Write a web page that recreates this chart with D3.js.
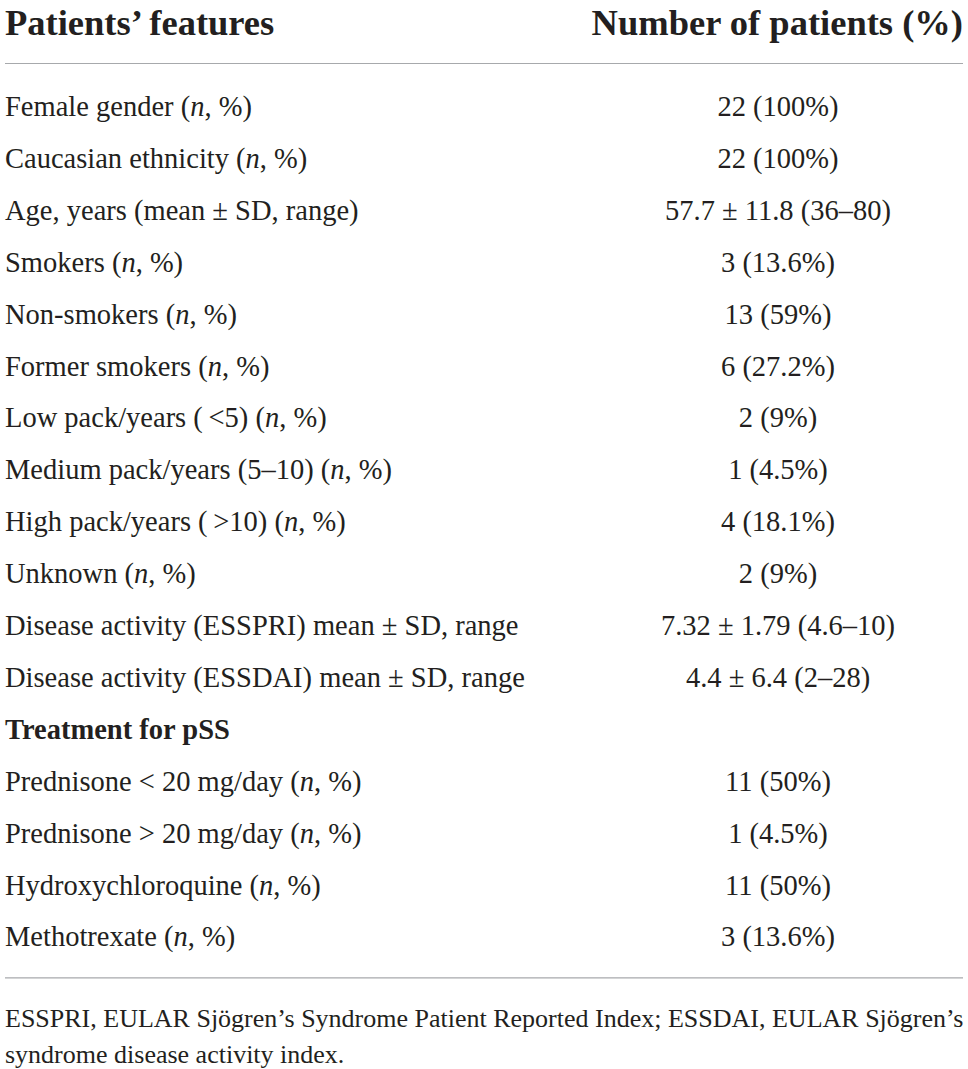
<!DOCTYPE html>
<html>
<head>
<meta charset="utf-8">
<script src="https://cdn.jsdelivr.net/npm/d3@7"></script>
<style>
  body { margin: 0; background: #fff; }
  svg text { font-family: "Liberation Serif", "Times New Roman", serif; fill: #231f20; }
</style>
</head>
<body>
<svg id="tbl" width="968" height="1069"></svg>
<script>
// column headers
var headers = ["Patients\u2019 features", "Number of patients (%)"]

// row labels, italic "n" is written as {n}
var features = [
    "Female gender ({n}, %)",
    "Caucasian ethnicity ({n}, %)",
    "Age, years (mean \u00b1 SD, range)",
    "Smokers ({n}, %)",
    "Non-smokers ({n}, %)",
    "Former smokers ({n}, %)",
    "Low pack/years (\u2009<5) ({n}, %)",
    "Medium pack/years (5\u201310) ({n}, %)",
    "High pack/years (\u2009>10) ({n}, %)",
    "Unknown ({n}, %)",
    "Disease activity (ESSPRI) mean \u00b1 SD, range",
    "Disease activity (ESSDAI) mean \u00b1 SD, range",
    "Treatment for pSS",
    "Prednisone < 20 mg/day ({n}, %)",
    "Prednisone > 20 mg/day ({n}, %)",
    "Hydroxychloroquine ({n}, %)",
    "Methotrexate ({n}, %)"
]

var values = [
    "22 (100%)",
    "22 (100%)",
    "57.7 \u00b1 11.8 (36\u201380)",
    "3 (13.6%)",
    "13 (59%)",
    "6 (27.2%)",
    "2 (9%)",
    "1 (4.5%)",
    "4 (18.1%)",
    "2 (9%)",
    "7.32 \u00b1 1.79 (4.6\u201310)",
    "4.4 \u00b1 6.4 (2\u201328)",
    "",
    "11 (50%)",
    "1 (4.5%)",
    "11 (50%)",
    "3 (13.6%)"
]

// rows drawn bold (section heading)
var sectionRows = ["Treatment for pSS"]

var footnote = [
    "ESSPRI, EULAR Sj\u00f6gren\u2019s Syndrome Patient Reported Index; ESSDAI, EULAR Sj\u00f6gren\u2019s",
    "syndrome disease activity index."
]

var svg = d3.select("#tbl")
var left = 5, right = 963
var valueCenter = 778

// row baselines
var y = d3.scalePoint()
    .domain(d3.range(features.length))
    .range([116, 116 + 51.9 * (features.length - 1)])

// header
svg.append("text")
    .attr("x", left).attr("y", 35)
    .attr("font-size", 36.5).attr("font-weight", "bold")
    .text(headers[0])
svg.append("text")
    .attr("x", right).attr("y", 35)
    .attr("text-anchor", "end")
    .attr("font-size", 36.5).attr("font-weight", "bold")
    .text(headers[1])

svg.append("line")
    .attr("x1", left).attr("x2", right)
    .attr("y1", 63.5).attr("y2", 63.5)
    .attr("stroke", "#a7a9ac").attr("stroke-width", 1.2)

var rows = svg.selectAll("g.row")
    .data(features)
    .enter().append("g")
    .attr("class", "row")
    .attr("transform", function(d, i) { return "translate(0," + y(i) + ")" })

rows.append("text")
    .attr("x", left)
    .attr("font-size", 28.5)
    .attr("font-weight", function(d) { return sectionRows.indexOf(d) >= 0 ? "bold" : "normal" })
    .each(function(d) {
        var t = d3.select(this)
        var parts = d.split("{n}")
        parts.forEach(function(p, k) {
            if (k > 0) t.append("tspan").attr("font-style", "italic").text("n")
            t.append("tspan").text(p)
        })
    })

rows.append("text")
    .attr("x", valueCenter)
    .attr("text-anchor", "middle")
    .attr("font-size", 28.5)
    .text(function(d, i) { return values[i] })

var yBottom = y(features.length - 1) + 31.5
svg.append("line")
    .attr("x1", left).attr("x2", right)
    .attr("y1", yBottom).attr("y2", yBottom)
    .attr("stroke", "#a7a9ac").attr("stroke-width", 1.2)

svg.selectAll("text.foot")
    .data(footnote)
    .enter().append("text")
    .attr("class", "foot")
    .attr("x", left)
    .attr("y", function(d, i) { return 1027 + i * 36 })
    .attr("font-size", 26)
    .text(function(d) { return d })
</script>
</body>
</html>
